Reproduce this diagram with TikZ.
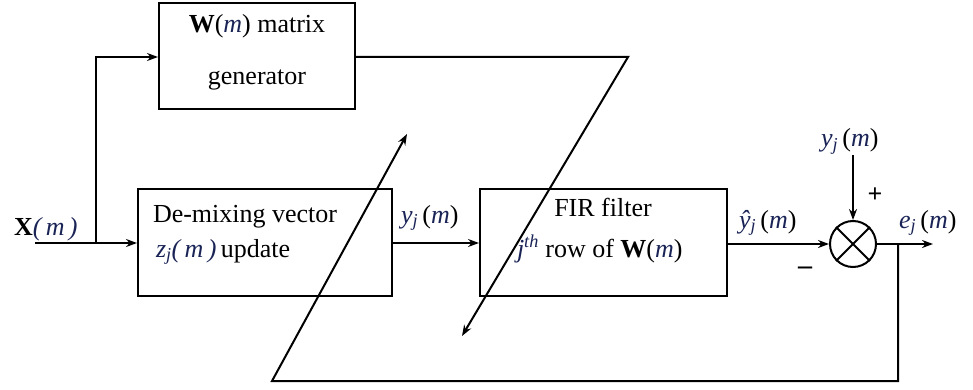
\documentclass[tikz,border=0pt]{standalone}
\usepackage{fontspec}
\setmainfont{Liberation Serif}
\usetikzlibrary{arrows.meta}
\definecolor{mc}{RGB}{25,35,85}
\newcommand{\mv}[1]{\textcolor{mc}{\textit{#1}}}
\newcommand{\sbj}{\textsubscript{\mv{j}}\,}
\begin{document}
\begin{tikzpicture}[x=1pt,y=-1pt, line width=2pt,
  blk/.style={draw, line width=2pt, inner sep=0pt},
  lbl/.style={font=\fontsize{26}{30}\selectfont, inner sep=0pt, anchor=base west},
  lblc/.style={lbl, anchor=base},
  arr/.style={-{Stealth[length=11pt,width=8pt]}},
  ]
\useasboundingbox (0,0) rectangle (973,390);
% blocks
\node[blk, minimum width=196pt, minimum height=106pt] (wgen) at (257,56) {};
\node[blk, minimum width=254pt, minimum height=107pt] (demix) at (265,242.5) {};
\node[blk, minimum width=247pt, minimum height=107pt] (fir) at (603.5,242.5) {};
\node[draw, circle, minimum size=46pt, inner sep=0pt] (sum) at (853,244) {};
\draw (sum.45) -- (sum.225) (sum.135) -- (sum.315);
% texts in blocks
\node[lblc] (wt1) at (257,33) {\textbf{W}(\mv{m}) matrix};
\node[lblc] (wt2) at (257,85) {generator};
\node[lbl] (dt1) at (152,222) {De-mixing vector};
\node[lbl] (dt2) at (155,257) {\mv{z}\textsubscript{\mv{j}}\mv{(\,m\,)}\,update};
\node[lblc] (ft1) at (603,216) {FIR filter};
\node[lbl] (ft2) at (516,257) {\mv{j}\textsuperscript{\mv{th}} row of \textbf{W}(\mv{m})};
% outer labels
\node[lbl] (xl) at (13,235) {\textbf{X}\mv{(\,m\,)}};
\node[lbl] (yl) at (400,223) {\mv{y}\sbj(\mv{m})};
\node[lbl] (yh) at (738,228) {\mv{ŷ}\sbj(\mv{m})};
\node[lbl] (yt) at (820,147) {\mv{y}\sbj(\mv{m})};
\node[lbl] (el) at (898,228) {\mv{e}\sbj(\mv{m})};
\node[font=\fontsize{26}{30}\selectfont\bfseries, inner sep=0pt] (plus) at (875,195) {+};
\node[font=\fontsize{28}{30}\selectfont\bfseries, inner sep=0pt] (minus) at (805,271) {\textendash};
% coordinates
\coordinate (xin) at (35,243);
\coordinate (br) at (96,243);
\coordinate (ytop) at (853,155);
\coordinate (eout) at (933,244);
\coordinate (fb) at (898,244);
\coordinate (fbc) at (898,381);
\coordinate (fbl) at (272,381);
\coordinate (fbt) at (407,134);
\coordinate (wr) at (628,57);
\coordinate (wt) at (462,336);
% connectors
\draw[arr] (xin) -- (demix.west |- xin);
\draw[arr] (br) |- (wgen.west |- 0,57);
\draw[arr] (demix.east |- 0,243) -- (fir.west |- 0,243);
\draw[arr] (fir.east |- sum.west) -- (sum.west);
\draw[arr] (ytop) -- (sum.north);
\draw[arr] (sum.east) -- (eout);
\draw[arr] (fb) -- (fbc) -- (fbl) -- (fbt);
\draw[arr] (wgen.east |- wr) -- (wr) -- (wt);
\end{tikzpicture}
\end{document}
